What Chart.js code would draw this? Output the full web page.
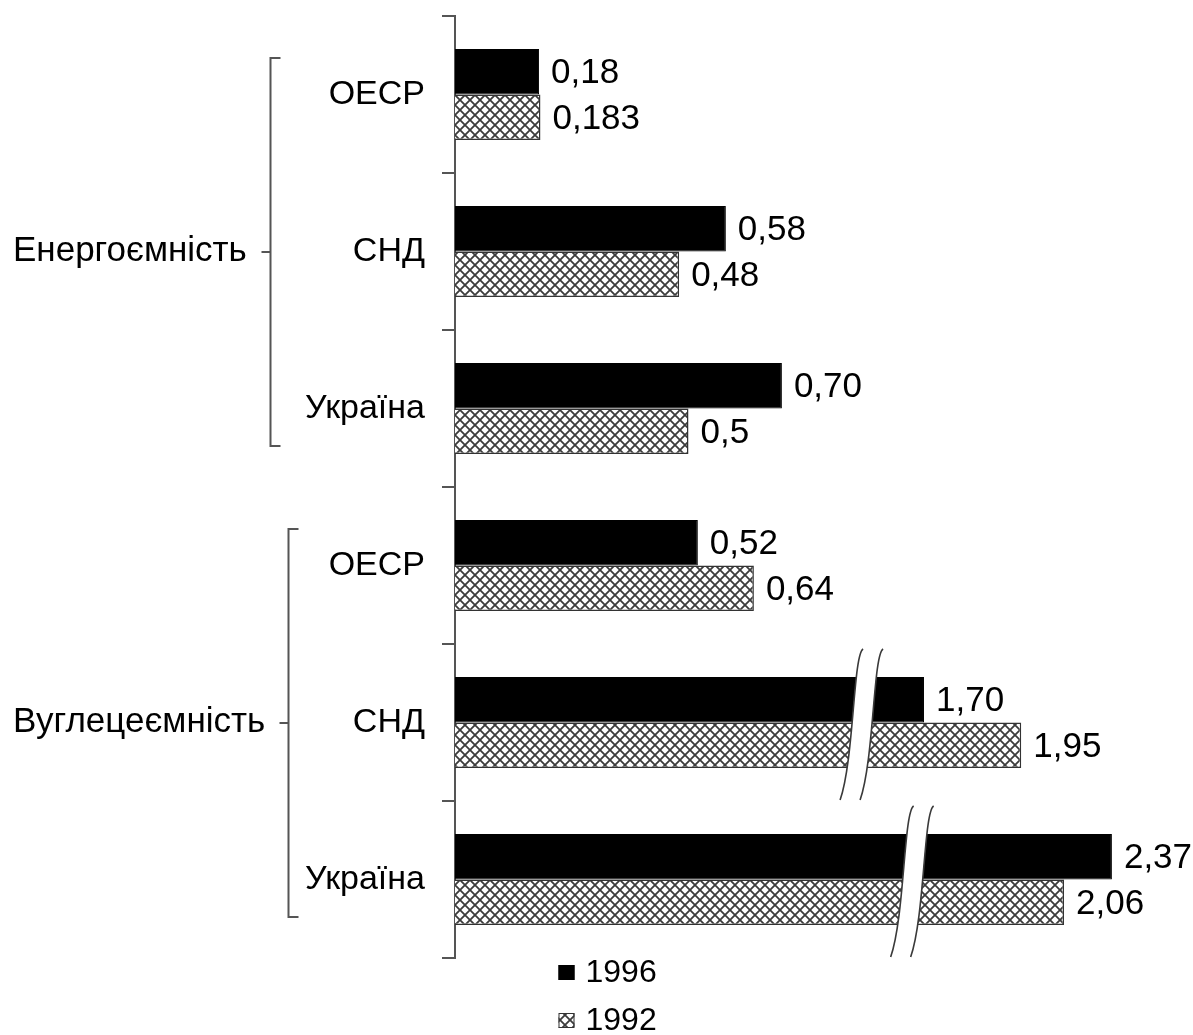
<!DOCTYPE html>
<html>
<head>
<meta charset="utf-8">
<script src="https://cdn.jsdelivr.net/npm/chart.js@4/dist/chart.umd.min.js"></script>
<style>
html, body { margin: 0; padding: 0; background: #ffffff; }
canvas { display: block; }
</style>
</head>
<body>
<canvas id="chart" width="1193" height="1035"></canvas>
<script>
// ---- data ----
const categories = ['ОЕСР', 'СНД', 'Україна', 'ОЕСР', 'СНД', 'Україна'];
const groupLabels = ['Енергоємність', 'Вуглецеємність'];
const groupRanges = [[0, 2], [3, 5]];
const seriesNames = ['1996', '1992'];
const values1996 = [0.18, 0.58, 0.70, 0.52, 1.70, 2.37];
const values1992 = [0.183, 0.48, 0.5, 0.64, 1.95, 2.06];
const labels1996 = ['0,18', '0,58', '0,70', '0,52', '1,70', '2,37'];
const labels1992 = ['0,183', '0,48', '0,5', '0,64', '1,95', '2,06'];

// ---- broken value axis: [value, axis position] knots (scale definition) ----
const AXIS_KNOTS = [[0, 0], [0.8, 0.8], [1.5, 0.8377], [2.06, 1.3041], [2.5, 1.4497]];
// where the break marks cut the bars (category index, axis value)
const BREAKS = [{ category: 4, at: 1.51 }, { category: 5, at: 1.64 }];

const FONT = 'Arial, "Liberation Sans", sans-serif';
Chart.defaults.font.family = FONT;
Chart.defaults.color = '#000';

class BrokenLinearScale extends Chart.LinearScale {
  _tv(v) {
    const k = AXIS_KNOTS;
    let i = 1;
    while (i < k.length - 1 && v > k[i][0]) i++;
    const [v0, t0] = k[i - 1], [v1, t1] = k[i];
    return t0 + (v - v0) * (t1 - t0) / (v1 - v0);
  }
  _vt(t) {
    const k = AXIS_KNOTS;
    let i = 1;
    while (i < k.length - 1 && t > k[i][1]) i++;
    const [v0, t0] = k[i - 1], [v1, t1] = k[i];
    return v0 + (t - t0) * (v1 - v0) / (t1 - t0);
  }
  getPixelForValue(value) {
    const a = this._tv(this.min), b = this._tv(this.max);
    return this.getPixelForDecimal((this._tv(value) - a) / (b - a));
  }
  getValueForPixel(pixel) {
    const a = this._tv(this.min), b = this._tv(this.max);
    return this._vt(a + this.getDecimalForPixel(pixel) * (b - a));
  }
}
BrokenLinearScale.id = 'brokenLinear';
BrokenLinearScale.defaults = Chart.LinearScale.defaults;
Chart.register(BrokenLinearScale);

function makeHatch() {
  const s = 10;
  const c = document.createElement('canvas');
  c.width = s; c.height = s;
  const g = c.getContext('2d');
  g.fillStyle = '#ffffff';
  g.fillRect(0, 0, s, s);
  g.strokeStyle = '#3c3c3c';
  g.lineWidth = 1.8;
  g.beginPath();
  g.moveTo(-1, -1); g.lineTo(s + 1, s + 1);
  g.moveTo(s + 1, -1); g.lineTo(-1, s + 1);
  g.stroke();
  return g.createPattern(c, 'repeat');
}
const hatch = makeHatch();

function barExtent(chart, index) {
  let top = Infinity, bottom = -Infinity;
  chart.data.datasets.forEach((ds, di) => {
    const el = chart.getDatasetMeta(di).data[index];
    top = Math.min(top, el.y - el.height / 2);
    bottom = Math.max(bottom, el.y + el.height / 2);
  });
  return { top, bottom };
}

const overlayPlugin = {
  id: 'overlay',
  afterDatasetsDraw(chart) {
    const ctx = chart.ctx;
    const xs = chart.scales.x;
    ctx.save();
    // axis breaks
    BREAKS.forEach(b => {
      const ext = barExtent(chart, b.category);
      const x = xs.getPixelForValue(b.at);
      const y0 = ext.top - 28, y1 = ext.bottom + 32;
      const gap = 20;
      const pts = dx => [
        [x + dx + 13, y0],
        [x + dx + 3, y0 + 6],
        [x + dx + 4, y1 - 40],
        [x + dx - 10, y1]
      ];
      const L = pts(0), R = pts(gap);
      ctx.beginPath();
      ctx.moveTo(L[0][0], L[0][1]);
      ctx.bezierCurveTo(L[1][0], L[1][1], L[2][0], L[2][1], L[3][0], L[3][1]);
      ctx.lineTo(R[3][0], R[3][1]);
      ctx.bezierCurveTo(R[2][0], R[2][1], R[1][0], R[1][1], R[0][0], R[0][1]);
      ctx.closePath();
      ctx.fillStyle = '#ffffff';
      ctx.fill();
      ctx.strokeStyle = '#3a3a3a';
      ctx.lineWidth = 1.6;
      [L, R].forEach(P => {
        ctx.beginPath();
        ctx.moveTo(P[0][0], P[0][1]);
        ctx.bezierCurveTo(P[1][0], P[1][1], P[2][0], P[2][1], P[3][0], P[3][1]);
        ctx.stroke();
      });
    });
    // value labels
    ctx.font = '35px ' + FONT;
    ctx.fillStyle = '#000';
    ctx.textAlign = 'left';
    ctx.textBaseline = 'middle';
    chart.data.datasets.forEach((ds, di) => {
      chart.getDatasetMeta(di).data.forEach((el, i) => {
        ctx.fillText(ds.valueLabels[i], el.x + 12, el.y + 2);
      });
    });
    ctx.restore();
  },
  afterDraw(chart) {
    const ctx = chart.ctx;
    const ys = chart.scales.y;
    ctx.save();
    // group labels with brackets
    groupRanges.forEach((r, gi) => {
      const [a, b] = r;
      const yc = (ys.getPixelForValue(a) + ys.getPixelForValue(b)) / 2;
      ctx.font = '35px ' + FONT;
      ctx.fillStyle = '#000';
      ctx.textAlign = 'left';
      ctx.textBaseline = 'middle';
      ctx.fillText(groupLabels[gi], 13, yc);
      const w = ctx.measureText(groupLabels[gi]).width;
      const bx = Math.round(13 + w + 23) + 0.5;
      const top = barExtent(chart, a).top + 9;
      const bottom = barExtent(chart, b).bottom - 8;
      const mid = (top + bottom) / 2;
      ctx.strokeStyle = '#555';
      ctx.lineWidth = 2;
      ctx.beginPath();
      ctx.moveTo(bx + 10, top);
      ctx.lineTo(bx, top);
      ctx.lineTo(bx, bottom);
      ctx.lineTo(bx + 10, bottom);
      ctx.moveTo(bx, mid);
      ctx.lineTo(bx - 9, mid);
      ctx.stroke();
    });
    // legend (stacked, below the plot)
    const lx = chart.width / 2 - 38;
    chart.data.datasets.forEach((ds, di) => {
      const cy = chart.chartArea.bottom + 14 + di * 48;
      ctx.fillStyle = ds.backgroundColor;
      ctx.fillRect(lx, cy - 7, 16, 15);
      ctx.strokeStyle = di === 0 ? '#000' : '#333';
      ctx.lineWidth = 1;
      ctx.strokeRect(lx + 0.5, cy - 6.5, 15, 14);
      ctx.fillStyle = '#000';
      ctx.font = '32px ' + FONT;
      ctx.textAlign = 'left';
      ctx.textBaseline = 'middle';
      ctx.fillText(ds.label, lx + 27, cy + 1);
    });
    ctx.restore();
  }
};

new Chart(document.getElementById('chart'), {
  type: 'bar',
  data: {
    labels: categories,
    datasets: [
      {
        label: seriesNames[0],
        data: values1996,
        valueLabels: labels1996,
        backgroundColor: '#000000',
        borderColor: '#000000',
        borderWidth: 1
      },
      {
        label: seriesNames[1],
        data: values1992,
        valueLabels: labels1992,
        backgroundColor: hatch,
        borderColor: '#333333',
        borderWidth: 1.5
      }
    ]
  },
  options: {
    indexAxis: 'y',
    responsive: false,
    animation: false,
    devicePixelRatio: 1,
    categoryPercentage: 0.58,
    barPercentage: 1.0,
    layout: { padding: { top: 16, bottom: 77, left: 0, right: 61 } },
    plugins: {
      legend: { display: false },
      tooltip: { enabled: false },
      title: { display: false }
    },
    scales: {
      y: {
        type: 'category',
        position: 'left',
        offset: true,
        grid: {
          display: true,
          offset: true,
          drawOnChartArea: false,
          drawTicks: true,
          tickLength: 13,
          color: '#555',
          lineWidth: 2
        },
        border: { display: true, color: '#555', width: 2 },
        ticks: { color: '#000', font: { size: 34 }, padding: 17, autoSkip: false },
        afterFit(s) {
          s.width = 455;
          s.paddingTop = 0; s.paddingBottom = 0;
          s.paddingLeft = 0; s.paddingRight = 0;
        }
      },
      x: {
        type: 'brokenLinear',
        min: 0,
        max: 2.5,
        display: false
      }
    }
  },
  plugins: [overlayPlugin]
});
</script>
</body>
</html>
